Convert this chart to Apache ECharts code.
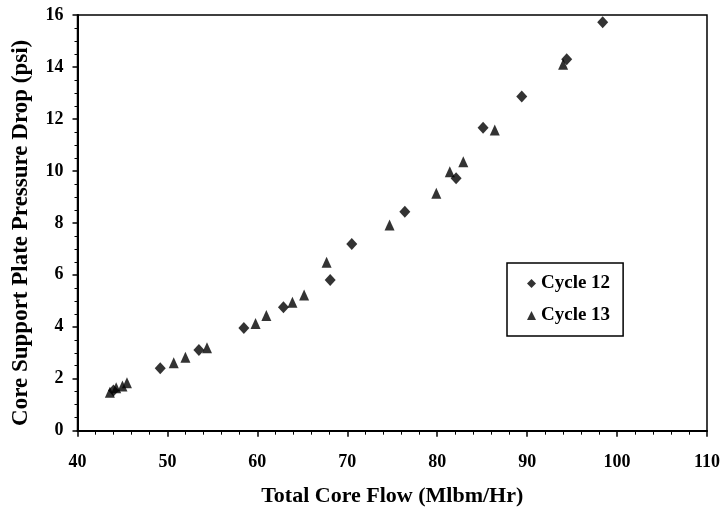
<!DOCTYPE html>
<html>
<head>
<meta charset="utf-8">
<script src="https://cdn.jsdelivr.net/npm/echarts@6/dist/echarts.min.js"></script>
<style>html,body{margin:0;padding:0;background:#fff}#c{width:723px;height:518px}</style>
</head>
<body>
<div id="c"></div>
<script>
var cycle12X = [44.0, 49.2, 53.5, 58.5, 62.9, 68.1, 70.5, 76.4, 82.1, 85.1, 89.4, 94.4, 98.4];
var cycle12Y = [1.55, 2.40, 3.11, 3.95, 4.75, 5.80, 7.19, 8.43, 9.72, 11.66, 12.86, 14.30, 15.72];
var cycle13X = [43.6, 44.3, 45.0, 45.5, 50.7, 52.0, 54.4, 59.8, 61.0, 63.9, 65.2, 67.7, 74.7, 79.9, 81.4, 82.9, 86.4, 94.0];
var cycle13Y = [1.48, 1.65, 1.72, 1.85, 2.62, 2.83, 3.19, 4.13, 4.43, 4.94, 5.22, 6.48, 7.92, 9.14, 9.97, 10.35, 11.57, 14.10];
var seriesNames = ['Cycle 12', 'Cycle 13'];
var xTitle = 'Total Core Flow (Mlbm/Hr)';
var yTitle = 'Core Support Plate Pressure Drop (psi)';

function pairs(xs, ys) { return xs.map(function (x, i) { return [x, ys[i]]; }); }

var font = '"Liberation Serif", "DejaVu Serif", serif';
var chart = echarts.init(document.getElementById('c'), null, { renderer: 'canvas' });
chart.setOption({
  animation: false,
  backgroundColor: '#fff',
  textStyle: { fontFamily: font, color: '#000' },
  grid: { left: 77.5, right: 15.5, top: 15, bottom: 87.3, show: true, borderColor: '#000', borderWidth: 1.5, backgroundColor: 'transparent' },
  xAxis: {
    type: 'value', min: 40, max: 110, interval: 10,
    name: xTitle, nameLocation: 'middle', nameGap: 55,
    nameTextStyle: { fontFamily: font, fontWeight: 'bold', fontSize: 22, color: '#000' },
    axisLine: { show: true, onZero: false, lineStyle: { color: '#000', width: 2 } },
    axisTick: { show: true, inside: false, length: 6, lineStyle: { color: '#000', width: 1.5 } },
    minorTick: { show: true, splitNumber: 5, length: 4, lineStyle: { color: '#000', width: 1 } },
    splitLine: { show: false },
    axisLabel: { fontFamily: font, fontWeight: 'bold', fontSize: 18, color: '#000', margin: 23 }
  },
  yAxis: {
    type: 'value', min: 0, max: 16, interval: 2,
    name: yTitle, nameLocation: 'middle', nameGap: 45, nameRotate: 90,
    nameTextStyle: { fontFamily: font, fontWeight: 'bold', fontSize: 23, color: '#000', padding: [0, 20, 0, 0] },
    axisLine: { show: true, onZero: false, lineStyle: { color: '#000', width: 2 } },
    axisTick: { show: true, inside: false, length: 5, lineStyle: { color: '#000', width: 1.5 } },
    minorTick: { show: true, splitNumber: 4, length: 3, lineStyle: { color: '#000', width: 1 } },
    splitLine: { show: false },
    axisLabel: { fontFamily: font, fontWeight: 'bold', fontSize: 18, color: '#000', margin: 14 }
  },
  legend: {
    orient: 'vertical', left: 507, top: 263,
    backgroundColor: '#fff', borderColor: '#000', borderWidth: 1.5,
    padding: [11, 13, 11, 20], itemGap: 13, itemWidth: 9, itemHeight: 9,
    textStyle: { fontFamily: font, fontWeight: 'bold', fontSize: 19, color: '#000' },
    data: [
      { name: seriesNames[0], icon: 'diamond' },
      { name: seriesNames[1], icon: 'triangle' }
    ]
  },
  series: [
    { name: seriesNames[0], type: 'scatter', symbol: 'diamond', symbolSize: [11, 12],
      itemStyle: { color: '#000' }, data: pairs(cycle12X, cycle12Y) },
    { name: seriesNames[1], type: 'scatter', symbol: 'triangle', symbolSize: [10, 11],
      itemStyle: { color: '#000' }, data: pairs(cycle13X, cycle13Y) }
  ]
});
</script>
</body>
</html>
